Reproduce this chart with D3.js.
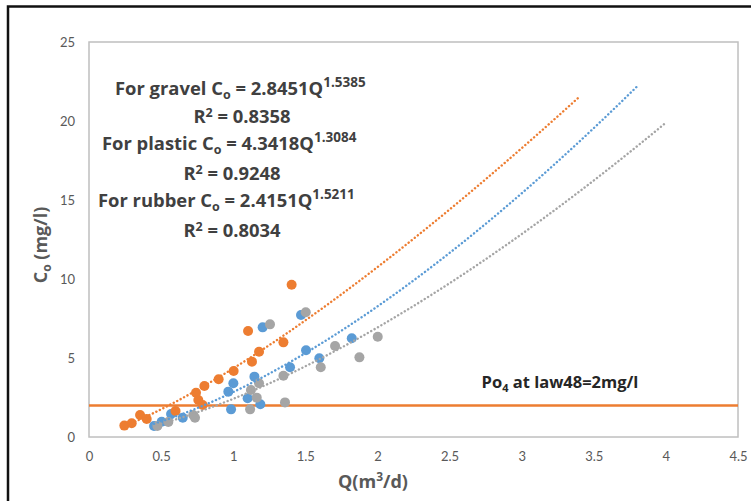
<!DOCTYPE html>
<html><head><meta charset="utf-8">
<script src="https://cdn.jsdelivr.net/npm/d3@7/dist/d3.min.js"></script>
<style>body{margin:0;background:#fff}svg{display:block}</style>
</head><body>
<svg id="chart" width="751" height="501"></svg>
<script>
// Data (Q in m3/d, Co in mg/l)
const plasticQ = [0.245,0.296,0.354,0.40,0.60,0.742,0.758,0.788,0.80,0.899,1.003,1.103,1.130,1.179,1.348,1.405];
const plasticC = [0.72,0.87,1.39,1.14,1.65,2.80,2.34,2.03,3.23,3.65,4.18,6.71,4.77,5.40,5.99,9.64];
const gravelQ = [0.451,0.504,0.569,0.650,0.966,0.985,1.001,1.100,1.147,1.188,1.204,1.394,1.470,1.505,1.597,1.822];
const gravelC = [0.70,0.97,1.46,1.22,2.87,1.75,3.40,2.45,3.82,2.07,6.94,4.41,7.72,5.49,4.98,6.25];
const rubberQ = [0.474,0.550,0.723,0.735,1.117,1.123,1.163,1.179,1.255,1.348,1.359,1.503,1.607,1.706,1.875,2.002];
const rubberC = [0.70,0.95,1.39,1.22,1.75,2.97,2.49,3.40,7.13,3.88,2.19,7.89,4.41,5.76,5.04,6.35];
// Power trendlines Co = a * Q^b, drawn between start and end Q
const trendNames = ["plastic","gravel","rubber"];
const trendA = [4.3418, 2.8451, 2.4151];
const trendB = [1.3084, 1.5385, 1.5211];
const trendStart = [0.245, 0.451, 0.474];
const trendEnd = [3.4, 3.8, 4.0];
const xTicks = [0,0.5,1,1.5,2,2.5,3,3.5,4,4.5];
const yTicks = [0,5,10,15,20,25];
const limitValue = 2;

const svg = d3.select("#chart");
const L=89, R=738, T=42, B=437;
const x = d3.scaleLinear().domain([0,4.5]).range([L,R]);
const y = d3.scaleLinear().domain([0,25]).range([B,T]);
const colors = {plastic:"#ED7D31", gravel:"#5B9BD5", rubber:"#A5A5A5"};
const BF = "'Open Sans', sans-serif";

// outer frame
svg.append("rect").attr("x",8).attr("y",6.5).attr("width",760).attr("height",520)
  .attr("fill","none").attr("stroke","#111").attr("stroke-width",2.5);

// plot border
svg.append("rect").attr("x",L).attr("y",T).attr("width",R-L).attr("height",B-T)
  .attr("fill","none").attr("stroke","#BFBFBF").attr("stroke-width",1.5);

// axes
const xAxis = svg.append("g").attr("transform",`translate(0,${B})`)
  .call(d3.axisBottom(x).tickValues(xTicks).tickSize(0).tickPadding(15).tickFormat(d=>d));
xAxis.select(".domain").remove();
xAxis.selectAll("text").style("font-size","13px").style("fill","#595959").style("font-family","Lato");
const yAxis = svg.append("g").attr("transform",`translate(${L},0)`)
  .call(d3.axisLeft(y).tickValues(yTicks).tickSize(0).tickPadding(14));
yAxis.select(".domain").remove();
yAxis.selectAll("text").style("font-size","13px").style("fill","#595959").style("font-family","Lato");

// limit line
svg.append("line").attr("x1",L).attr("x2",R).attr("y1",y(limitValue)).attr("y2",y(limitValue))
  .attr("stroke","#ED7D31").attr("stroke-width",2.5);

// points
function pts(Q,C,col){
  svg.append("g").selectAll("circle").data(Q.map((q,i)=>[q,C[i]])).join("circle")
    .attr("cx",d=>x(d[0])).attr("cy",d=>y(d[1])).attr("r",5).attr("fill",col);
}
pts(gravelQ,gravelC,colors.gravel);
pts(rubberQ,rubberC,colors.rubber);
pts(plasticQ,plasticC,colors.plastic);

// trendlines
const line = d3.line().x(d=>x(d[0])).y(d=>y(d[1]));
trendNames.forEach((n,i)=>{
  const q = d3.range(0,101).map(k=>trendStart[i]+(trendEnd[i]-trendStart[i])*k/100);
  svg.append("path").attr("d",line(q.map(v=>[v,trendA[i]*Math.pow(v,trendB[i])])))
    .attr("fill","none").attr("stroke",colors[n]).attr("stroke-width",2.4)
    .attr("stroke-dasharray","0.1 3.8").attr("stroke-linecap","round");
});

// annotations
function eq(xp,yp,label,a,b){
  const t = svg.append("text").attr("x",xp).attr("y",yp).style("font-family",BF).style("font-size","18.4px").style("font-weight","bold").style("fill","#404040");
  t.append("tspan").text(`For ${label} C`);
  t.append("tspan").attr("dy",4).style("font-size","12.5px").text("o");
  t.append("tspan").attr("dy",-4).text(` = ${a}Q`);
  t.append("tspan").attr("dy",-8).style("font-size","13.5px").text(b);
}
function r2(xc,yp,v){
  const t = svg.append("text").attr("x",xc).attr("y",yp).style("font-family",BF).style("font-size","18.4px").style("font-weight","bold").style("fill","#404040").attr("text-anchor","middle");
  t.append("tspan").text("R");
  t.append("tspan").attr("dy",-6).style("font-size","12.5px").text("2");
  t.append("tspan").attr("dy",6).text(` = ${v}`);
}
eq(115,95,"gravel","2.8451","1.5385");
r2(242,123,"0.8358");
eq(102,150,"plastic","4.3418","1.3084");
r2(232,180,"0.9248");
eq(98,207,"rubber","2.4151","1.5211");
r2(232,237,"0.8034");

// limit label
const lt = svg.append("text").attr("x",560).attr("y",388).attr("text-anchor","middle").style("font-family",BF).style("font-size","16.5px").style("font-weight","bold").style("fill","#262626");
lt.append("tspan").text("Po");
lt.append("tspan").attr("dy",4).style("font-size","11px").text("4");
lt.append("tspan").attr("dy",-4).text(" at law48=2mg/l");

// axis titles
const xt = svg.append("text").attr("x",373).attr("y",488).attr("text-anchor","middle").style("font-family",BF).style("font-size","18px").style("font-weight","bold").style("fill","#595959");
xt.append("tspan").text("Q(m");
xt.append("tspan").attr("dy",-7).style("font-size","12px").text("3");
xt.append("tspan").attr("dy",7).text("/d)");
const yt = svg.append("text").attr("transform","translate(47,245) rotate(-90)").attr("text-anchor","middle").style("font-family",BF).style("font-size","18px").style("font-weight","bold").style("fill","#595959");
yt.append("tspan").text("C");
yt.append("tspan").attr("dy",4).style("font-size","12px").text("o");
yt.append("tspan").attr("dy",-4).text(" (mg/l)");
</script>
</body></html>
